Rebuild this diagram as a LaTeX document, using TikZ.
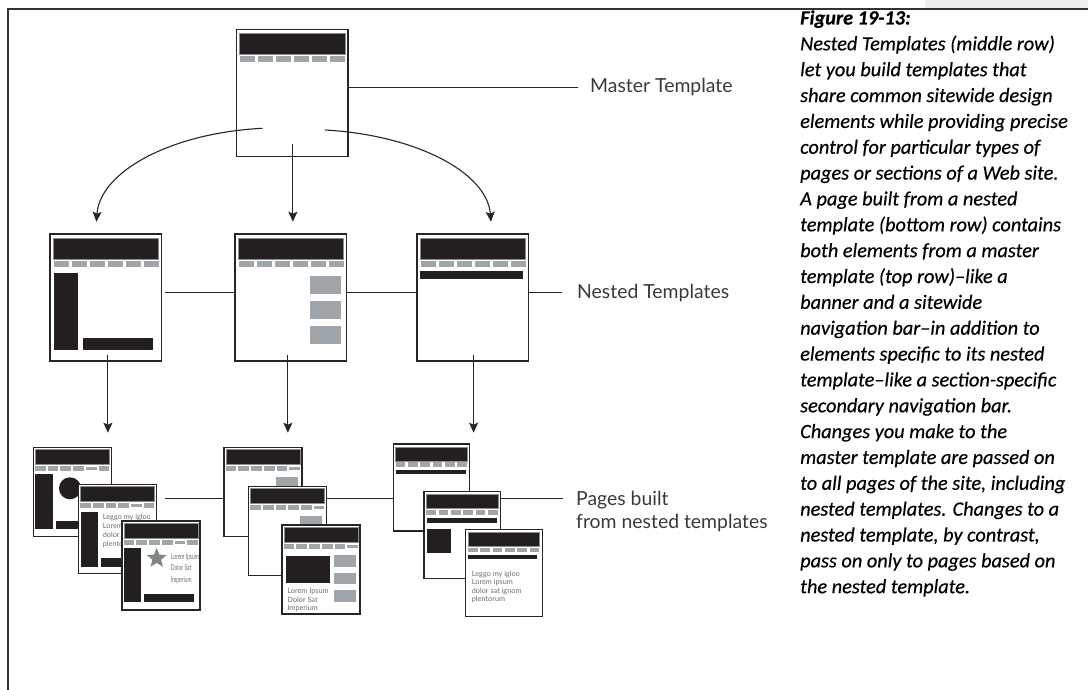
\documentclass[tikz,border=0pt]{standalone}
\usepackage{fontspec}
\setmainfont{Lato}
\newfontfamily\capfont[FakeBold=0.4]{Carlito}
\newfontfamily\lblfont{Lato}
\newfontfamily\tinyfont{Lato}
\newfontfamily\condfont[FakeStretch=0.62]{Lato}
\usetikzlibrary{arrows.meta,shapes.geometric}
\definecolor{dk}{HTML}{231F20}
\definecolor{navg}{HTML}{A0A5AA}
\definecolor{lblc}{HTML}{3A3A3A}
\definecolor{txtg}{HTML}{6D6E71}
\definecolor{starg}{HTML}{808589}
\definecolor{tabg}{HTML}{F0F0F0}
\tikzset{
 tbox/.style={draw=black!85, line width=1.3pt, fill=white, inner sep=0pt, outer sep=0pt, minimum width=111.5pt, minimum height=127pt, anchor=north west},
 pbox/.style={draw=black!85, line width=1.2pt, fill=white, inner sep=0pt, outer sep=0pt, minimum width=78pt, minimum height=89pt, anchor=north west},
 qbox/.style={pbox, minimum width=76.5pt, minimum height=87pt},
 banner/.style={fill=dk, draw=black!45, line width=0.6pt},
 navb/.style={fill=navg},
 conn/.style={line width=1.1pt, draw=black!85},
 arr/.style={conn, -{Stealth[length=10pt,width=9pt,inset=2pt]}},
 lbl/.style={font=\lblfont\fontsize{19.4}{22}\selectfont, text=lblc, anchor=base west, inner sep=0pt},
 captxt/.style={font=\capfont\itshape\fontsize{20.3}{24}\selectfont, anchor=base west, inner sep=0pt},
 tinytxt/.style={font=\tinyfont\fontsize{7.3}{8}\selectfont, text=txtg, anchor=base west, inner sep=0pt},
 condtxt/.style={font=\condfont\fontsize{8}{8}\selectfont, text=txtg, anchor=base west, inner sep=0pt},
}
% template (master / nested) banner + nav, relative to top-left
\newcommand\tmplnav{%
  \filldraw[banner] (3,4) rectangle (108.5,25);
  \foreach \i in {0,...,5} \fill[navb] ({3.6+18*\i},26.7) rectangle ++(15,6);
}
% page (78 wide) banner + nav; #1 = index of thin block
\newcommand\pgnav[1]{%
  \filldraw[banner] (1.9,2) rectangle (76.2,17);
  \foreach \i in {0,...,5} {%
    \ifnum\i=#1\relax
      \fill[navb] ({1.7+12.7*\i},19.7) rectangle ++(10.7,3);
    \else
      \fill[navb] ({1.7+12.7*\i},18.7) rectangle ++(10.7,5);
    \fi}
}
% page (76.5 wide) banner + nav
\newcommand\qgnav{%
  \filldraw[banner] (2.3,3) rectangle (73.8,17);
  \foreach \i in {0,...,5} \fill[navb] ({2.3+12.3*\i},18.4) rectangle ++(9.8,4.4);
}
\begin{document}
\begin{tikzpicture}[x=1pt,y=-1pt]
\useasboundingbox (0,0) rectangle (1088,690);
\fill[white] (0,0) rectangle (1088,690);
\fill[tabg] (925,0) rectangle (1088,8.3);
\draw[line width=1.2pt, black!80] (7.9,690) -- (7.9,9) -- (1088,9);

% ---------- master ----------
\node[tbox] (master) at (236.4,29.3) {};
\begin{scope}[shift={(236.4,29.3)}] \tmplnav \end{scope}

% ---------- nested ----------
\node[tbox] (n1) at (50,234) {};
\begin{scope}[shift={(50,234)}]
  \tmplnav
  \fill[dk] (3.6,38.7) rectangle (27.9,115.7);
  \fill[dk] (32.9,104.3) rectangle (102.5,115.7);
\end{scope}
\node[tbox] (n2) at (235,234) {};
\begin{scope}[shift={(235,234)}]
  \tmplnav
  \fill[navg] (75,42) rectangle (106,59.7);
  \fill[navg] (75,67) rectangle (106,84.7);
  \fill[navg] (75,92) rectangle (106,109.7);
\end{scope}
\node[tbox] (n3) at (417.1,234) {};
\begin{scope}[shift={(417.1,234)}]
  \tmplnav
  \fill[dk] (2.9,37) rectangle (105.8,45);
\end{scope}

% ---------- pages, column 1 ----------
\node[pbox] (p1a) at (33.3,447.3) {};
\begin{scope}[shift={(33.3,447.3)}]
  \pgnav{4}
  \fill[dk] (1.9,27) rectangle (19.4,81.7);
  \fill[dk] (36.7,41) circle (11pt);
  \fill[dk] (22.4,73.4) rectangle (70,81.7);
\end{scope}
\node[pbox] (p1b) at (78.5,484.3) {};
\begin{scope}[shift={(78.5,484.3)}]
  \pgnav{4}
  \fill[dk] (2.5,27.4) rectangle (19.8,82.4);
  \node[tinytxt] (t1b1) at (24.2,35.5) {Leggo my igloo};
  \node[tinytxt] (t1b2) at (24.2,44.4) {Lorem ipsum};
  \node[tinytxt] (t1b3) at (24.2,53.3) {dolor sat ignom};
  \node[tinytxt] (t1b4) at (24.2,62.2) {plentorum};
  \fill[dk] (22.5,74) rectangle (70,82.4);
\end{scope}
\node[pbox] (p1c) at (122,521) {};
\begin{scope}[shift={(122,521)}]
  \pgnav{4}
  \fill[dk] (2.3,27.3) rectangle (18.7,81.3);
  \node[star, star points=5, star point ratio=2.3, fill=starg, minimum size=21pt, inner sep=0pt] (star1) at (34.7,37.3) {};
  \node[condtxt] (t1c1) at (48.7,38) {Lorem Ipsum};
  \node[condtxt] (t1c2) at (48.7,49.5) {Dolor Sat};
  \node[condtxt] (t1c3) at (48.7,61) {Imperium};
  \fill[dk] (22.3,73.3) rectangle (72,81.3);
\end{scope}

% ---------- pages, column 2 ----------
\node[pbox] (p2a) at (224,447.3) {};
\begin{scope}[shift={(224,447.3)}]
  \pgnav{5}
  \fill[navg] (51.7,29.4) rectangle (74.3,48);
\end{scope}
\node[pbox] (p2b) at (248.5,486.3) {};
\begin{scope}[shift={(248.5,486.3)}]
  \pgnav{5}
  \fill[navg] (51.5,29.7) rectangle (73.8,48);
\end{scope}
\node[pbox] (p2c) at (282,525) {};
\begin{scope}[shift={(282,525)}]
  \pgnav{5}
  \fill[dk] (4,31) rectangle (48,58.3);
  \fill[navg] (52,30) rectangle (74,41.7);
  \fill[navg] (52,47.7) rectangle (74,59.3);
  \fill[navg] (52,65) rectangle (74,76.7);
  \node[tinytxt] (t2c1) at (5.3,68.5) {Lorem Ipsum};
  \node[tinytxt] (t2c2) at (5.3,77) {Dolor Sat};
  \node[tinytxt] (t2c3) at (5.3,85.5) {Imperium};
\end{scope}

% ---------- pages, column 3 ----------
\node[qbox] (p3a) at (393.3,444) {};
\begin{scope}[shift={(393.3,444)}]
  \qgnav
  \fill[dk] (2.7,26) rectangle (72.7,30.3);
\end{scope}
\node[qbox] (p3b) at (424,491.7) {};
\begin{scope}[shift={(424,491.7)}]
  \qgnav
  \fill[dk] (3.3,26.6) rectangle (72.7,31);
  \fill[dk] (3.3,37.3) rectangle (26.7,61);
\end{scope}
\node[qbox] (p3c) at (465.7,529.3) {};
\begin{scope}[shift={(465.7,529.3)}]
  \qgnav
  \fill[dk] (2.6,25.7) rectangle (71.6,30);
  \node[tinytxt] (t3c1) at (6,47) {Leggo my igloo};
  \node[tinytxt] (t3c2) at (6,55.5) {Lorem ipsum};
  \node[tinytxt] (t3c3) at (6,64) {dolor sat ignom};
  \node[tinytxt] (t3c4) at (6,72.5) {plentorum};
\end{scope}

% ---------- labels ----------
\node[lbl] (lm) at (590,93) {Master Template};
\node[lbl] (ln) at (577,298) {Nested Templates};
\node[lbl] (lp1) at (576,505) {Pages built};
\node[lbl] (lp2) at (576,528) {from nested templates};

% ---------- connectors ----------
\coordinate (mrow) at (0,87.3);
\coordinate (mend) at (578,87.3);
\draw[conn] (master.east |- mrow) -- (mend);

\coordinate (cl) at (262.5,128.3);
\coordinate (cm) at (292.9,144.3);
\coordinate (cr) at (325,130);
\coordinate (tl) at (96.4,221.7);
\coordinate (tm) at (292.9,221.7);
\coordinate (tr) at (491,221.7);
\draw[arr] (cl) .. controls (170,133) and (100,172) .. (tl);
\draw[arr] (cm) -- (tm);
\draw[arr] (cr) .. controls (415,135) and (487,172) .. (tr);

\coordinate (nrow) at (0,292.3);
\coordinate (nstart) at (165,292.3);
\coordinate (nend) at (562,292.3);
\draw[conn] (nstart) -- (n2.west |- nrow);
\draw[conn] (n2.east |- nrow) -- (n3.west |- nrow);
\draw[conn] (n3.east |- nrow) -- (nend);

\coordinate (v1s) at (107.9,355);
\coordinate (v2s) at (287.9,355);
\coordinate (v3s) at (473.6,355);
\coordinate (v1e) at (107.9,432.7);
\coordinate (v2e) at (287.9,432.7);
\coordinate (v3e) at (473.6,432.7);
\draw[arr] (v1s) -- (v1e);
\draw[arr] (v2s) -- (v2e);
\draw[arr] (v3s) -- (v3e);

\coordinate (prow) at (0,498.3);
\coordinate (pstart) at (165,498.3);
\coordinate (pend) at (562.7,498.3);
\draw[conn] (pstart) -- (p2a.west |- prow);
\draw[conn] (p2b.east |- prow) -- (p3a.west |- prow);
\draw[conn] (p3b.east |- prow) -- (pend);

% ---------- caption ----------
\foreach \t [count=\i from 0] in {%
  {\bfseries Figure 19-13:},
  {Nested Templates (middle row)},
  {let you build templates that},
  {share common sitewide design},
  {elements while providing precise},
  {control for particular types of},
  {pages or sections of a Web site.},
  {A page built from a nested},
  {template (bottom row) contains},
  {both elements from a master},
  {template (top row)–like a},
  {banner and a sitewide},
  {navigation bar–in addition to},
  {elements specific to its nested},
  {template–like a section-specific},
  {secondary navigation bar.},
  {Changes you make to the},
  {master template are passed on},
  {to all pages of the site, including},
  {nested templates. Changes to a},
  {nested template, by contrast,},
  {pass on only to pages based on},
  {the nested template.}}
  \node[captxt] (cap\i) at (800,{24.5+25.85*\i}) {\t};
\end{tikzpicture}
\end{document}
